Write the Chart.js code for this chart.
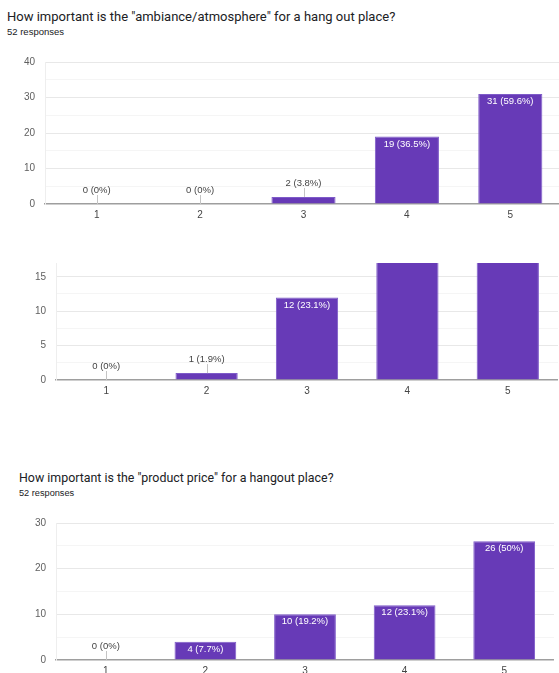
<!DOCTYPE html>
<html>
<head>
<meta charset="utf-8">
<script src="https://cdn.jsdelivr.net/npm/chart.js@4/dist/chart.umd.min.js"></script>
<style>
    body { margin: 0; background: #fff; }
    #page { position: relative; width: 559px; height: 673px; overflow: hidden; background: #fff; font-family: Roboto, Arial, sans-serif; }
    .title { position: absolute; font-size: 13px; color: #202124; white-space: nowrap; }
    .sub { position: absolute; font-family: Arial, sans-serif; font-size: 9.5px; color: #202124; white-space: nowrap; }
    canvas { position: absolute; left: 0; }
</style>
</head>
<body>
<div id="page">
    <div class="title" style="left:7px; top:9px;">How important is the "ambiance/atmosphere" for a hang out place?</div>
    <div class="sub" style="left:7px; top:26px;">52 responses</div>
    <canvas id="chart1" width="562" height="179" style="top:50px;"></canvas>

    <canvas id="chart2" width="558" height="152" style="top:253px;"></canvas>

    <div class="title" style="left:19px; top:470px; font-size:12.4px;">How important is the "product price" for a hangout place?</div>
    <div class="sub" style="left:19px; top:488px; font-size:9.2px;">52 responses</div>
    <canvas id="chart3" width="554" height="172" style="top:513px;"></canvas>
</div>
<script>
const categories = ['1', '2', '3', '4', '5'];
const totalResponses = 52;

const ambianceCounts = [0, 0, 2, 19, 31];
const ambianceMax = 40;

// bars 4 and 5 are cut off at the top of the screenshot
const secondCounts = [0, 1, 12, 19, 20];
const secondMax = 17;

const priceCounts = [0, 4, 10, 12, 26];
const priceMax = 30;

const BAR_COLOR = '#673ab7';
const FONT = 'Arial, "Liberation Sans", sans-serif';

function percentText (v) {
    const p = Math.round(v / totalResponses * 1000) / 10;
    return v + ' (' + p + '%)';
}

const barLabels = {
    id: 'barLabels',
    afterDatasetsDraw (chart) {
        const { ctx, chartArea } = chart;
        const meta = chart.getDatasetMeta(0);
        const values = chart.data.datasets[0].data;

        ctx.save();
        ctx.font = '9.5px ' + FONT;
        ctx.textAlign = 'center';
        ctx.textBaseline = 'middle';

        meta.data.forEach((bar, i) => {
            if (bar.y < chartArea.top) return;
            const text = percentText(values[i]);
            const h = bar.base - bar.y;

            if (h >= 15) {
                ctx.fillStyle = '#ffffff';
                ctx.fillText(text, bar.x, bar.y + 7.5);
            } else {
                const ty = bar.y - 14;
                const lx = Math.round(bar.x) + 0.5;
                ctx.strokeStyle = '#c4c4c4';
                ctx.lineWidth = 1;
                ctx.beginPath();
                ctx.moveTo(lx, ty + 5);
                ctx.lineTo(lx, bar.y);
                ctx.stroke();
                ctx.fillStyle = '#444444';
                ctx.fillText(text, bar.x, ty);
            }
        });
        ctx.restore();
    }
};

function getBarConfig (values, max, step, labelStep, axisWidth, padTop) {
    return {
        type: 'bar',
        data: {
            labels: categories,
            datasets: [{
                data: values,
                backgroundColor: BAR_COLOR,
                borderColor: '#7e5bc8',
                borderWidth: 1,
                borderSkipped: 'bottom',
                barPercentage: 0.62,
                categoryPercentage: 1,
                clip: 0
            }]
        },
        options: {
            responsive: false,
            animation: false,
            layout: {
                padding: { top: padTop, left: 0, right: 0, bottom: 0 }
            },
            plugins: {
                legend: { display: false },
                tooltip: { enabled: false }
            },
            scales: {
                x: {
                    z: 1,
                    grid: { display: false, drawTicks: false },
                    border: { display: true, color: '#9e9e9e', width: 1.5 },
                    ticks: {
                        color: '#444',
                        font: { family: FONT, size: 10 },
                        padding: 5
                    },
                    afterFit: scale => {
                        scale.height = 25;
                        scale.paddingLeft = 0;
                        scale.paddingRight = 0;
                    }
                },
                y: {
                    min: 0,
                    max: max,
                    border: { display: true, color: '#eeeeee', width: 1 },
                    grid: {
                        drawTicks: false,
                        color: ctx => {
                            const v = ctx.tick.value;
                            if (v === 0) return 'rgba(0,0,0,0)';
                            return v % labelStep === 0 ? '#e8e8e8' : '#f5f5f5';
                        }
                    },
                    ticks: {
                        stepSize: step,
                        includeBounds: false,
                        padding: 10,
                        color: '#5f5f5f',
                        font: { family: FONT, size: 10 },
                        callback: value => value % labelStep === 0 ? value : ''
                    },
                    afterFit: scale => {
                        scale.width = axisWidth;
                        scale.paddingTop = 0;
                        scale.paddingBottom = 0;
                    }
                }
            }
        },
        plugins: [barLabels]
    };
}

new Chart(document.getElementById('chart1'), getBarConfig(ambianceCounts, ambianceMax, 5, 10, 45, 12));
new Chart(document.getElementById('chart2'), getBarConfig(secondCounts, secondMax, 2.5, 5, 56, 10));
new Chart(document.getElementById('chart3'), getBarConfig(priceCounts, priceMax, 5, 10, 56, 10));
</script>
</body>
</html>
